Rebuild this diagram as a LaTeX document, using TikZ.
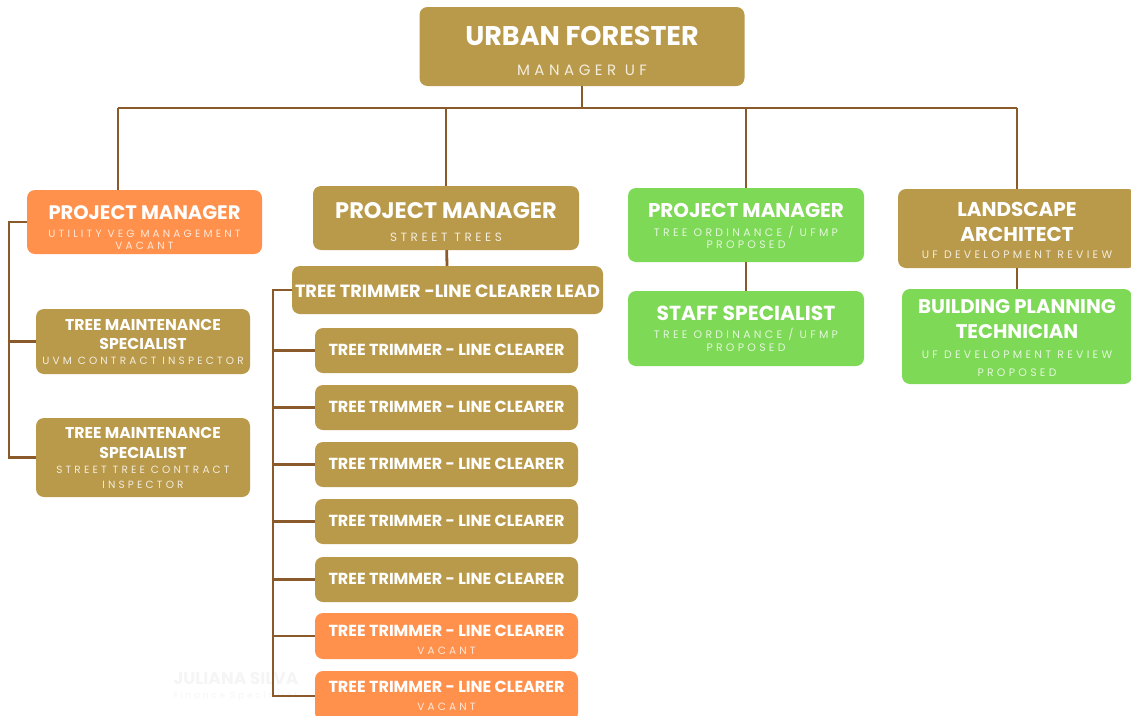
\documentclass[tikz,border=0pt]{standalone}
\usepackage{fontspec}
\setmainfont{Poppins}
\newfontfamily\subf{Poppins}[LetterSpace=30]
\usetikzlibrary{positioning}

\definecolor{gold}{RGB}{185,153,74}
\definecolor{peach}{RGB}{255,145,77}
\definecolor{leaf}{RGB}{126,217,87}
\definecolor{bark}{RGB}{139,90,43}

% one line of a title, one line of a subtitle
\newcommand{\tl}[2]{{\fontsize{#1}{#1}\selectfont\bfseries #2}}
\newcommand{\sbl}[2]{{\subf\fontsize{#1}{#1}\selectfont\color{soft}#2}}

\begin{document}
\begin{tikzpicture}[x=1pt, y=-1pt,
  card/.style={rounded corners=8pt, inner sep=0pt, align=center, text=white, text depth=0pt,
    execute at begin node={\baselineskip=0pt\lineskiplimit=-\maxdimen}},
  goldcard/.style={card, fill=gold, execute at begin node=\colorlet{soft}{gold!18!white}},
  peachcard/.style={card, fill=peach, execute at begin node=\colorlet{soft}{peach!22!white}},
  leafcard/.style={card, fill=leaf, execute at begin node=\colorlet{soft}{leaf!22!white}},
  link/.style={draw=bark, line width=2.8pt}]
  \useasboundingbox (0,0) rectangle (1131,715);

  % faint watermark
  \node[anchor=west, text=black!4, font=\fontsize{17}{17}\selectfont\bfseries] (ghostname) at (170,678) {JULIANA SILVA};
  \node[anchor=north west, text=black!4, font=\subf\fontsize{9}{9}\selectfont] (ghostrole) at (ghostname.south west) {Finance Specialist};

  % Top
  \node[goldcard, minimum width=325, minimum height=79, text height=57] (uf) at (582,46.5)
    {\tl{27}{URBAN FORESTER}\\[30pt]\sbl{15}{MANAGER UF}};

  % Column 1
  \node[peachcard, minimum width=235, minimum height=64, text height=54] (pm1) at (144.5,222)
    {\tl{19.5}{PROJECT MANAGER}\\[18pt]\sbl{10.5}{UTILITY VEG MANAGEMENT}\\[12pt]\sbl{10.5}{VACANT}};
  \node[goldcard, minimum width=214, minimum height=65, text height=45] (tms1) at (143,341.5)
    {\tl{15.7}{TREE MAINTENANCE}\\[19pt]\tl{15.7}{SPECIALIST}\\[15pt]\sbl{10.5}{UVM CONTRACT INSPECTOR}};
  \node[goldcard, minimum width=214, minimum height=79, text height=61] (tms2) at (143,457.5)
    {\tl{15.7}{TREE MAINTENANCE}\\[20pt]\tl{15.7}{SPECIALIST}\\[15pt]\sbl{10.5}{STREET TREE CONTRACT}\\[15pt]\sbl{10.5}{INSPECTOR}};

  % Column 2
  \node[goldcard, minimum width=266, minimum height=64, text height=46] (pm2) at (446,218)
    {\tl{22.5}{PROJECT MANAGER}\\[23pt]\sbl{12}{STREET TREES}};
  \node[goldcard, minimum width=311, minimum height=48, text height=15] (lead) at (447.5,290)
    {\tl{17.7}{TREE TRIMMER -LINE CLEARER LEAD}};
  \foreach \i/\y in {1/350.5, 2/407.5, 3/464.5, 4/521.5, 5/579.5}
    \node[goldcard, minimum width=263, minimum height=45, text height=10.5] (t\i) at (446.5,\y)
      {\tl{16}{TREE TRIMMER - LINE CLEARER}};
  \foreach \i/\y/\h/\th in {6/636/46/36, 7/696/50/29}
    \node[peachcard, minimum width=263, minimum height=\h, text height=\th] (t\i) at (446.5,\y)
      {\tl{16}{TREE TRIMMER - LINE CLEARER}\\[18pt]\sbl{10.5}{VACANT}};

  % Column 3
  \node[leafcard, minimum width=236, minimum height=74, text height=46] (pm3) at (746,225)
    {\tl{19.9}{PROJECT MANAGER}\\[19pt]\sbl{10.9}{TREE ORDINANCE / UFMP}\\[12pt]\sbl{10.9}{PROPOSED}};
  \node[leafcard, minimum width=236, minimum height=75, text height=45] (ss) at (746,328.5)
    {\tl{20.3}{STAFF SPECIALIST}\\[18pt]\sbl{10.9}{TREE ORDINANCE / UFMP}\\[13pt]\sbl{10.9}{PROPOSED}};

  % Column 4
  \node[goldcard, minimum width=238, minimum height=79, text height=59] (la) at (1017,228.5)
    {\tl{20}{LANDSCAPE}\\[25pt]\tl{20}{ARCHITECT}\\[17pt]\sbl{10.9}{UF DEVELOPMENT REVIEW}};
  \node[leafcard, minimum width=230, minimum height=95, text height=79] (bpt) at (1017,336.5)
    {\tl{19.7}{BUILDING PLANNING}\\[25pt]\tl{19.7}{TECHNICIAN}\\[20pt]\sbl{10.9}{UF DEVELOPMENT REVIEW}\\[18pt]\sbl{10.9}{PROPOSED}};

  % Connectors
  \coordinate (busL) at (118,108);
  \coordinate (spineA) at (9,0);
  \coordinate (spineB) at (273,0);
  \draw[link] (uf.south) -- (uf.south |- busL);
  \draw[link] (busL) -- (busL -| la.north);
  \draw[link] (busL) -- (busL |- pm1.north);
  \draw[link] (pm2.north |- busL) -- (pm2.north);
  \draw[link] (pm3.north |- busL) -- (pm3.north);
  \draw[link] (la.north |- busL) -- (la.north);
  \draw[link] (pm2) -- (lead);
  \draw[link] (pm3) -- (ss);
  \draw[link] (la) -- (bpt);
  \draw[link] (pm1.west) -| (spineA |- tms2.west) -- (tms2.west);
  \draw[link] (tms1.west) -- (tms1.west -| spineA);
  \draw[link] (lead.west) -| (spineB |- t7.west) -- (t7.west);
  \foreach \i in {1,...,6}
    \draw[link] (t\i.west) -- (t\i.west -| spineB);
\end{tikzpicture}
\end{document}
